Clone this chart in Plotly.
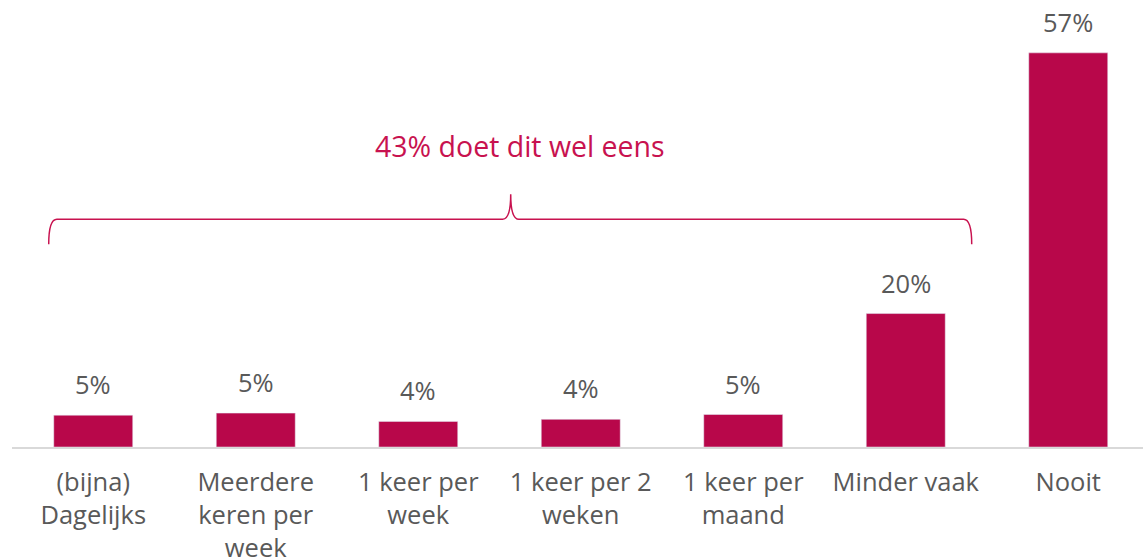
import plotly.graph_objects as go

categories = ["(bijna)<br>Dagelijks", "Meerdere<br>keren per<br>week", "1 keer per<br>week",
              "1 keer per 2<br>weken", "1 keer per<br>maand", "Minder vaak", "Nooit"]
values = [4.6, 4.9, 3.7, 4.0, 4.7, 19.3, 57.0]
value_labels = ["5%", "5%", "4%", "4%", "5%", "20%", "57%"]
bracket_text = "43% doet dit wel eens"

BAR = "#B8074A"
ACCENT = "#C8124F"
GREY = "#595959"
FONT = "Open Sans"

x = list(range(len(categories)))
fig = go.Figure()
fig.add_trace(go.Bar(x=x, y=values, marker_color=BAR, width=0.486, hoverinfo="skip"))

for xi, v, lab in zip(x, values, value_labels):
    fig.add_annotation(x=xi, y=v, text=lab, showarrow=False, yanchor="bottom", yshift=12,
                       font=dict(family=FONT, size=25.5, color=GREY))

# curly bracket over the first six categories
x0, x1, xm = -0.274, 5.406, 2.569
yl, ye, yt = 32.95, 29.33, 36.57
dx = 0.05
path = (f"M {x0},{ye} Q {x0},{yl} {x0+dx},{yl} L {xm-dx},{yl} Q {xm},{yl} {xm},{yt} "
        f"Q {xm},{yl} {xm+dx},{yl} L {x1-dx},{yl} Q {x1},{yl} {x1},{ye}")
fig.add_shape(type="path", path=path, xref="x", yref="y",
              line=dict(color=ACCENT, width=1.5))
fig.add_annotation(x=2.625, y=43.5, text=bracket_text, showarrow=False,
                   font=dict(family=FONT, size=28.5, color=ACCENT))

fig.update_layout(
    width=1143, height=557, margin=dict(l=12, r=0, t=10, b=110),
    paper_bgcolor="white", plot_bgcolor="white", showlegend=False,
    font=dict(family=FONT, color=GREY, size=25.5),
)
fig.update_xaxes(range=[-0.5, 6.46], tickmode="array", tickvals=x, ticktext=categories,
                 showline=True, linecolor="#D9D9D9", linewidth=1.5, showgrid=False,
                 ticks="outside", ticklen=12, tickcolor="rgba(0,0,0,0)", automargin=False,
                 tickfont=dict(family=FONT, size=25.5, color=GREY), zeroline=False)
fig.update_yaxes(range=[0, 63.2], visible=False, showgrid=False, zeroline=False,
                 automargin=False)

fig.write_html("out.html", config={"displayModeBar": False, "staticPlot": True},
               post_script="document.body.style.margin='0';document.body.style.overflow='hidden';")
